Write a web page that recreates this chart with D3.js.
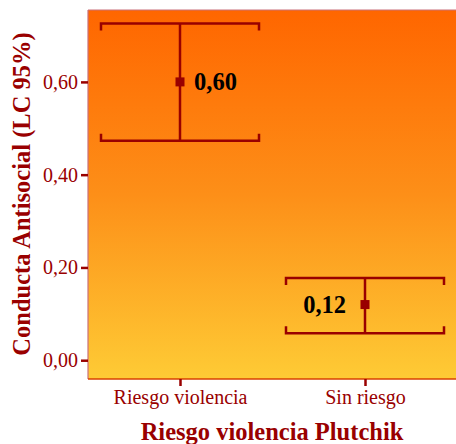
<!DOCTYPE html>
<html><head><meta charset="utf-8">
<script src="https://cdn.jsdelivr.net/npm/d3@7"></script>
<style>body{margin:0;background:#fff}svg{display:block}</style>
</head><body>
<svg id="c" width="456" height="444"></svg>
<script>
const categories = ["Riesgo violencia", "Sin riesgo"];
const means = [0.60, 0.12];
const lower = [0.473, 0.058];
const upper = [0.726, 0.177];
const meanLabels = ["0,60", "0,12"];
const yTicks = [0, 0.2, 0.4, 0.6];

const svg = d3.select("#c");
const L = 88, R = 456, T = 10, B = 379;
const y = d3.scaleLinear().domain([-0.0405, 0.755]).range([B, T]);
const x = d3.scalePoint().domain(categories).range([180, 365]);
const dark = "#990000";
const serif = "'Liberation Serif', 'Times New Roman', serif";

const defs = svg.append("defs");
const g = defs.append("linearGradient").attr("id","bg").attr("x1",0).attr("y1",0).attr("x2",0).attr("y2",1);
g.append("stop").attr("offset","0%").attr("stop-color","#ff6600");
g.append("stop").attr("offset","50%").attr("stop-color","#fd8f18");
g.append("stop").attr("offset","100%").attr("stop-color","#fecb35");

svg.append("rect").attr("x",L).attr("y",T).attr("width",R-L).attr("height",B-T).attr("fill","url(#bg)");
svg.append("line").attr("x1",L).attr("x2",R).attr("y1",T).attr("y2",T).attr("stroke","#c9707a").attr("stroke-width",1.2);
svg.append("line").attr("x1",L).attr("x2",L).attr("y1",T).attr("y2",B).attr("stroke","#c9707a").attr("stroke-width",1.2);
svg.append("line").attr("x1",L).attr("x2",R).attr("y1",B).attr("y2",B).attr("stroke","#d84000").attr("stroke-width",1.5);

// y axis
const ya = svg.append("g").attr("transform",`translate(${L},0)`)
  .call(d3.axisLeft(y).tickValues(yTicks).tickSize(7).tickPadding(3)
  .tickFormat(d => d3.format(".2f")(d).replace(".", ",")));
ya.attr("font-size",null).attr("font-family",null);
ya.select(".domain").remove();
ya.selectAll("line").attr("stroke",dark).attr("stroke-width",2.5);
ya.selectAll("text").attr("fill",dark).style("font-family",serif).style("font-size","20px");

// x axis
const xa = svg.append("g").attr("transform",`translate(0,${B})`)
  .call(d3.axisBottom(x).tickSize(7).tickPadding(4));
xa.attr("font-size",null).attr("font-family",null);
xa.select(".domain").remove();
xa.selectAll("line").attr("stroke",dark).attr("stroke-width",2.5);
xa.selectAll("text").attr("fill",dark).style("font-family",serif).style("font-size","20px");

// error bars
const eb = svg.append("g");
categories.forEach((c,i) => {
  const cx = x(c), hw = 79;
  const yu = y(upper[i]), yl = y(lower[i]), ym = y(means[i]);
  const s = {stroke: dark, "stroke-width": 2.5, fill: "none"};
  const add = (d) => { const p = eb.append("path").attr("d", d); Object.entries(s).forEach(([k,v])=>p.attr(k,v)); };
  add(`M${cx},${yu}V${yl}`);
  add(`M${cx-hw},${yu+7}V${yu}H${cx+hw}V${yu+7}`);
  add(`M${cx-hw},${yl-7}V${yl}H${cx+hw}V${yl-7}`);
  eb.append("rect").attr("x",cx-4.5).attr("y",ym-4.5).attr("width",9).attr("height",9).attr("fill",dark);
  const left = i === 1;
  eb.append("text").attr("x", left ? cx-19 : cx+14).attr("y", ym)
    .attr("dy","0.35em").attr("text-anchor", left ? "end" : "start")
    .style("font-family",serif).attr("font-weight","bold").style("font-size","24.5px")
    .attr("fill","#000").text(meanLabels[i]);
});

// titles
svg.append("text").attr("transform",`translate(30,${194}) rotate(-90)`)
  .attr("text-anchor","middle").style("font-family",serif).attr("font-weight","bold")
  .style("font-size","24.5px").attr("fill",dark).text("Conducta Antisocial (LC 95%)");
svg.append("text").attr("x",272).attr("y",440).attr("text-anchor","middle")
  .style("font-family",serif).attr("font-weight","bold")
  .style("font-size","24.5px").attr("fill",dark).text("Riesgo violencia Plutchik");
</script>
</body></html>
